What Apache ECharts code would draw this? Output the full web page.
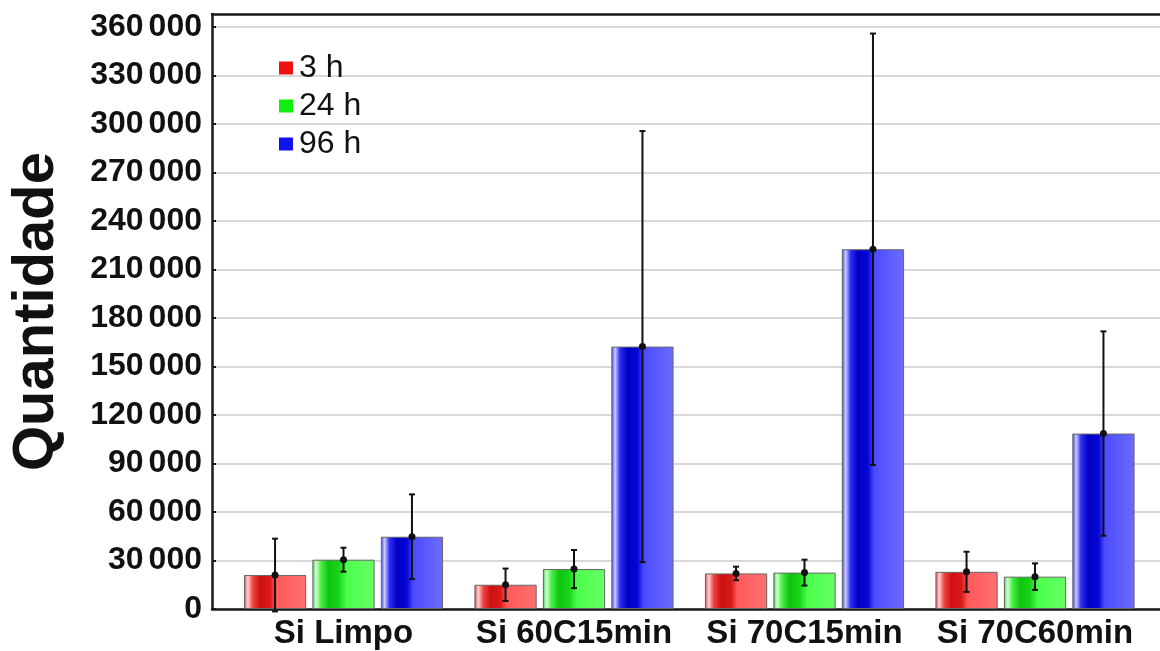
<!DOCTYPE html>
<html>
<head>
<meta charset="utf-8">
<script src="https://cdn.jsdelivr.net/npm/echarts@6/dist/echarts.min.js"></script>
<style>
  html, body { margin: 0; padding: 0; background: #fff; }
  #chart { width: 1160px; height: 651px; }
</style>
</head>
<body>
<div id="chart"></div>
<script>
// Samples and times
const categories = ['Si Limpo', 'Si 60C15min', 'Si 70C15min', 'Si 70C60min'];
const seriesNames = ['3 h', '24 h', '96 h'];

// Mean counts per sample
const values3h = [21000, 15000, 22000, 23000];
const values24h = [30500, 24700, 22500, 20000];
const values96h = [44700, 162300, 222500, 108500];

// Standard deviations (error bar half-length)
const err3h = [22500, 10000, 4200, 12400];
const err24h = [7400, 11800, 8000, 8200];
const err96h = [26200, 133300, 133400, 63200];

// Y-axis tick values
const yTicks = [0, 30000, 60000, 90000, 120000, 150000, 180000, 210000, 240000, 270000, 300000, 330000, 360000];

const FONT = "'Liberation Sans', Arial, Helvetica, sans-serif";
const Y_MAX = 368000;
const BAR_WIDTH_PCT = 27;
const BAR_GAP_PCT = 10;

// thousands grouped with a narrow gap, e.g. "360 000"
function fmt(v) {
  const s = String(v);
  if (s.length <= 3) return { head: '', tail: s };
  return { head: s.slice(0, s.length - 3), tail: s.slice(s.length - 3) };
}

function grad(stops) {
  return {
    type: 'linear', x: 0, y: 0, x2: 1, y2: 0,
    colorStops: stops.map(s => ({ offset: s[0], color: s[1] }))
  };
}

const fills = [
  grad([[0, '#e03838'], [0.06, '#ffd4d4'], [0.14, '#ee4646'], [0.26, '#cf1010'], [0.42, '#d81a1a'], [0.52, '#ff5a5a'], [1, '#ff7070']]),
  grad([[0, '#38d838'], [0.06, '#d4ffd4'], [0.14, '#46ee46'], [0.26, '#10c410'], [0.42, '#18d418'], [0.55, '#4cff4c'], [1, '#66ff66']]),
  grad([[0, '#3a3af0'], [0.06, '#ccccff'], [0.14, '#2e2ef0'], [0.26, '#0000c4'], [0.42, '#0606d6'], [0.52, '#4c4cff'], [1, '#6c6cff']])
];
const solid = ['#ee1111', '#11ee11', '#1111ee'];

const values = [values3h, values24h, values96h];
const errors = [err3h, err24h, err96h];

const barSeries = seriesNames.map((name, s) => ({
  name: name,
  type: 'bar',
  xAxisIndex: 1,
  yAxisIndex: 1,
  barWidth: BAR_WIDTH_PCT + '%',
  barGap: BAR_GAP_PCT + '%',
  itemStyle: { color: fills[s], borderColor: '#666', borderWidth: 1 },
  data: values[s]
}));

const errSeries = seriesNames.map((name, s) => ({
  name: name + ' sd',
  type: 'custom',
  xAxisIndex: 1,
  yAxisIndex: 1,
  z: 10,
  clip: false,
  data: values[s].map((v, i) => [i, v, errors[s][i]]),
  renderItem: function (params, api) {
    const idx = api.value(0);
    const mean = api.value(1);
    const sd = api.value(2);
    const band = api.size([1, 0])[0];
    const barW = band * BAR_WIDTH_PCT / 100;
    const gap = barW * BAR_GAP_PCT / 100;
    const off = (s - 1) * (barW + gap);
    const c = api.coord([idx, mean]);
    const hi = api.coord([idx, mean + sd]);
    const lo = api.coord([idx, mean - sd]);
    const x = c[0] + off;
    const cap = 3;
    const st = { stroke: '#111', lineWidth: 2 };
    return {
      type: 'group',
      children: [
        { type: 'line', shape: { x1: x, y1: hi[1], x2: x, y2: lo[1] }, style: st },
        { type: 'line', shape: { x1: x - cap, y1: hi[1], x2: x + cap, y2: hi[1] }, style: st },
        { type: 'line', shape: { x1: x - cap, y1: lo[1], x2: x + cap, y2: lo[1] }, style: st },
        { type: 'circle', shape: { cx: x, cy: c[1], r: 3.5 }, style: { fill: '#111' } }
      ]
    };
  }
}));

const chart = echarts.init(document.getElementById('chart'), null, { renderer: 'canvas' });

const tickText = { fontSize: 32, fontWeight: 'bold', color: '#111', fontFamily: FONT };

chart.setOption({
  animation: false,
  backgroundColor: '#ffffff',
  textStyle: { fontFamily: FONT },
  legend: {
    orient: 'vertical',
    left: 274,
    top: 47,
    itemWidth: 14,
    itemHeight: 13,
    itemGap: 6,
    selectedMode: false,
    textStyle: { fontSize: 32, color: '#111', fontFamily: FONT, lineHeight: 32, padding: [0, 0, 0, 1] },
    data: seriesNames.map((n, s) => ({ name: n, icon: 'rect', itemStyle: { color: solid[s], borderWidth: 0 } }))
  },
  grid: [
    { left: 206, right: 0, top: 14, bottom: 42 },
    { left: 228.25, width: 922, top: 14, bottom: 42 }
  ],
  xAxis: [
    {
      gridIndex: 0, type: 'category', data: categories,
      axisLine: { show: true, lineStyle: { color: '#1a1a1a', width: 2.5 } },
      axisTick: { show: false }, axisLabel: { show: false }, splitLine: { show: false }
    },
    {
      gridIndex: 1, type: 'category', data: categories,
      axisLine: { show: false }, axisTick: { show: false },
      axisLabel: { interval: 0, fontSize: 33, fontWeight: 'bold', color: '#111', margin: 8, fontFamily: FONT }
    },
    {
      // top frame line
      gridIndex: 0, type: 'category', data: categories, position: 'top',
      axisLine: { show: true, onZero: false, lineStyle: { color: '#1a1a1a', width: 2.5 } },
      axisTick: { show: false }, axisLabel: { show: false }, splitLine: { show: false }
    }
  ],
  yAxis: [
    {
      gridIndex: 0, type: 'value', min: 0, max: Y_MAX, interval: 30000,
      name: 'Quantidade', nameLocation: 'middle', nameGap: 146,
      nameTextStyle: { fontSize: 58, fontWeight: 'bold', color: '#111', fontFamily: FONT },
      axisLine: { show: true, lineStyle: { color: '#1a1a1a', width: 2.5 } },
      axisTick: { show: true, inside: true, length: 4, lineStyle: { color: '#1a1a1a', width: 2 } },
      axisLabel: {
        margin: 10,
        showMaxLabel: false,
        formatter: v => {
          if (yTicks.indexOf(v) < 0) return '';
          const p = fmt(v);
          return p.head ? '{h|' + p.head + '}{t|' + p.tail + '}' : '{t|' + p.tail + '}';
        },
        rich: {
          h: Object.assign({ padding: [0, 5, 0, 0] }, tickText),
          t: Object.assign({}, tickText)
        }
      },
      splitLine: { show: true, lineStyle: { color: '#d9d9d9', width: 2 } }
    },
    {
      gridIndex: 1, type: 'value', min: 0, max: Y_MAX, interval: 30000,
      axisLine: { show: false }, axisTick: { show: false }, axisLabel: { show: false }, splitLine: { show: false }
    }
  ],
  series: barSeries.concat(errSeries)
});
</script>
</body>
</html>
